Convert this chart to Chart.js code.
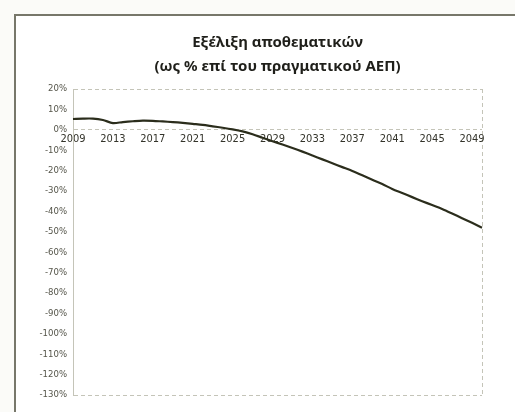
<!DOCTYPE html>
<html>
<head>
<meta charset="utf-8">
<script src="https://cdn.jsdelivr.net/npm/chart.js@4/dist/chart.umd.min.js"></script>
<style>
  html, body { margin: 0; padding: 0; background: #fbfbf8; }
  #wrap { position: relative; width: 515px; height: 412px; overflow: hidden; }
  #frame { position: absolute; left: 14px; top: 14px; width: 520px; height: 420px;
           border-left: 2px solid #77776a; border-top: 2px solid #77776a; background: #fff; }
  canvas { position: absolute; left: 0; top: 0; }
</style>
</head>
<body>
<div id="wrap">
  <div id="frame"></div>
  <canvas id="chart" width="515" height="412"></canvas>
</div>
<script>
// ===========================
// Data
// ===========================
const years = [];
for (let y = 2009; y <= 2050; y++) years.push(String(y));

const reserves = [
  5.3, 5.5, 5.5, 4.8, 3.3, 3.8, 4.2, 4.5, 4.4, 4.1,
  3.8, 3.4, 2.9, 2.4, 1.7, 1.0, 0.2, -0.8, -2.2, -3.9,
  -5.6, -7.2, -8.9, -10.7, -12.6, -14.5, -16.4, -18.3, -20.2, -22.3,
  -24.5, -26.6, -29.0, -31.0, -33.0, -35.0, -36.9, -38.8, -41.0, -43.3,
  -45.6, -48.0
];

const titleLines = ["Εξέλιξη αποθεματικών", "(ως % επί του πραγματικού ΑΕΠ)"];
const yMin = -130, yMax = 20, yStep = 10;

const gridGray = "#c4c4b8";
const tickFont = "Liberation Sans Narrow, DejaVu Sans Condensed, sans-serif";

// ===========================
// Chart
// ===========================
new Chart(document.getElementById("chart"), {
  type: "line",
  data: {
    labels: years,
    datasets: [{
      data: reserves,
      borderColor: "#2b2d1c",
      borderWidth: 2.2,
      pointRadius: 0,
      tension: 0.3,
      fill: false
    }]
  },
  options: {
    responsive: false,
    animation: false,
    layout: { padding: { left: 34, right: 33, top: 31, bottom: 17 } },
    plugins: {
      legend: { display: false },
      tooltip: { enabled: false },
      title: {
        display: true,
        fullSize: false,
        text: titleLines,
        color: "#1f1f1a",
        font: { family: "Noto Sans", size: 15, weight: "bold", lineHeight: 1.6 },
        padding: { top: 0, bottom: 10 }
      }
    },
    scales: {
      x: {
        position: { y: 0 },
        offset: false,
        grid: {
          drawTicks: false,
          color: ctx => (ctx.index === years.length - 1 ? gridGray : "rgba(0,0,0,0)")
        },
        border: { display: false, dash: [4, 3] },
        ticks: {
          autoSkip: false,
          maxRotation: 0,
          padding: 3,
          color: "#33332a",
          font: { family: tickFont, size: 11 },
          callback: (v, i) => (i % 4 === 0 ? years[i] : "")
        }
      },
      y: {
        min: yMin,
        max: yMax,
        afterFit: s => { s.width = 39; },
        grid: {
          drawTicks: false,
          color: ctx => ([yMax, 0, yMin].includes(ctx.tick.value) ? gridGray : "rgba(0,0,0,0)"),
          lineWidth: 1
        },
        border: { display: true, color: gridGray, width: 1, dash: [4, 3] },
        ticks: {
          stepSize: yStep,
          padding: 6,
          color: "#55554a",
          font: { family: tickFont, size: 9.5 },
          callback: v => v + "%"
        }
      }
    }
  }
});
</script>
</body>
</html>
